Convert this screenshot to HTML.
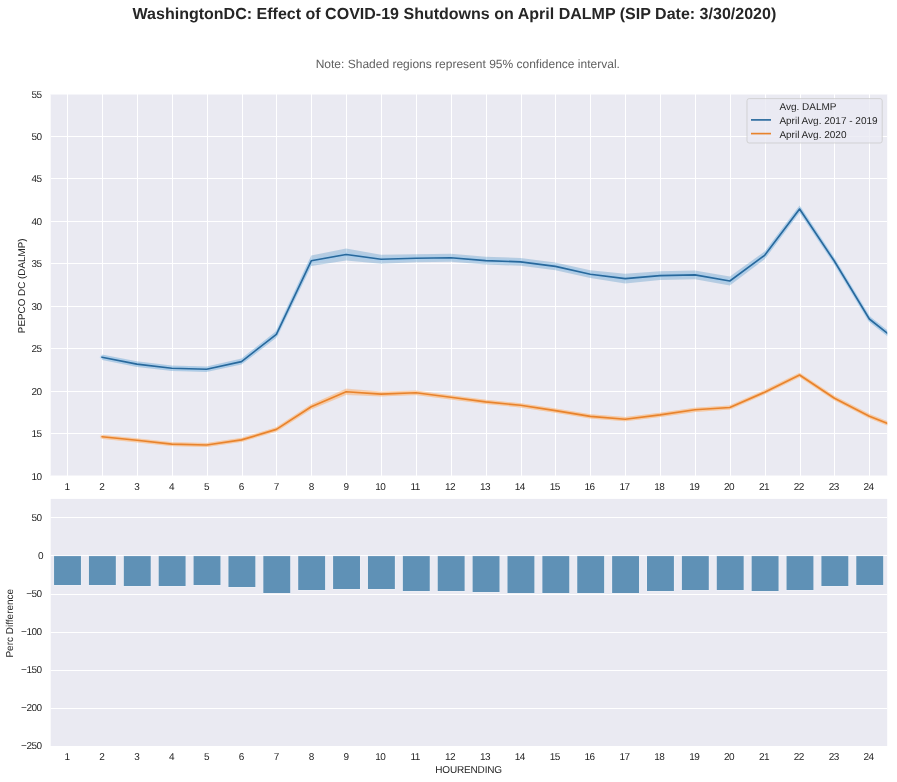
<!DOCTYPE html>
<html lang="en">
<head>
<meta charset="utf-8">
<title>WashingtonDC: Effect of COVID-19 Shutdowns on April DALMP</title>
<style>
html,body{margin:0;padding:0;background:#fff;}
body{width:897px;height:782px;overflow:hidden;}
svg{display:block;will-change:transform;}
text{font-family:"Liberation Sans",Arial,Helvetica,sans-serif;fill:#262626;font-size:10px;text-rendering:geometricPrecision;}
.title{font-size:16px;font-weight:bold;fill:#262626;letter-spacing:0.012px;}
.sub{font-size:12px;fill:#606060;}
.grid line{stroke:#ffffff;stroke-width:1;}
.tk text{letter-spacing:-0.5px;}
</style>
</head>
<body>
<svg width="897" height="782" viewBox="0 0 897 782">
<rect x="0" y="0" width="897" height="782" fill="#ffffff"/>
<text class="title" x="454.4" y="19" text-anchor="middle">WashingtonDC: Effect of COVID-19 Shutdowns on April DALMP (SIP Date: 3/30/2020)</text>
<text class="sub" x="467.8" y="68.3" text-anchor="middle">Note: Shaded regions represent 95% confidence interval.</text>
<clipPath id="c1"><rect x="50.7" y="94.0" width="836.50" height="382.00"/></clipPath>
<rect x="50.7" y="94.0" width="836.50" height="382.00" fill="#eaeaf2"/>
<g class="grid" clip-path="url(#c1)">
<line x1="67.5" y1="94.0" x2="67.5" y2="476.0"/>
<line x1="102.5" y1="94.0" x2="102.5" y2="476.0"/>
<line x1="137.5" y1="94.0" x2="137.5" y2="476.0"/>
<line x1="172.5" y1="94.0" x2="172.5" y2="476.0"/>
<line x1="207.5" y1="94.0" x2="207.5" y2="476.0"/>
<line x1="242.5" y1="94.0" x2="242.5" y2="476.0"/>
<line x1="276.5" y1="94.0" x2="276.5" y2="476.0"/>
<line x1="311.5" y1="94.0" x2="311.5" y2="476.0"/>
<line x1="346.5" y1="94.0" x2="346.5" y2="476.0"/>
<line x1="381.5" y1="94.0" x2="381.5" y2="476.0"/>
<line x1="416.5" y1="94.0" x2="416.5" y2="476.0"/>
<line x1="451.5" y1="94.0" x2="451.5" y2="476.0"/>
<line x1="486.5" y1="94.0" x2="486.5" y2="476.0"/>
<line x1="521.5" y1="94.0" x2="521.5" y2="476.0"/>
<line x1="555.5" y1="94.0" x2="555.5" y2="476.0"/>
<line x1="590.5" y1="94.0" x2="590.5" y2="476.0"/>
<line x1="625.5" y1="94.0" x2="625.5" y2="476.0"/>
<line x1="660.5" y1="94.0" x2="660.5" y2="476.0"/>
<line x1="695.5" y1="94.0" x2="695.5" y2="476.0"/>
<line x1="730.5" y1="94.0" x2="730.5" y2="476.0"/>
<line x1="765.5" y1="94.0" x2="765.5" y2="476.0"/>
<line x1="800.5" y1="94.0" x2="800.5" y2="476.0"/>
<line x1="834.5" y1="94.0" x2="834.5" y2="476.0"/>
<line x1="869.5" y1="94.0" x2="869.5" y2="476.0"/>
<line x1="50.7" y1="476.00" x2="887.2" y2="476.00"/>
<line x1="50.7" y1="433.50" x2="887.2" y2="433.50"/>
<line x1="50.7" y1="391.50" x2="887.2" y2="391.50"/>
<line x1="50.7" y1="348.50" x2="887.2" y2="348.50"/>
<line x1="50.7" y1="306.50" x2="887.2" y2="306.50"/>
<line x1="50.7" y1="263.50" x2="887.2" y2="263.50"/>
<line x1="50.7" y1="221.50" x2="887.2" y2="221.50"/>
<line x1="50.7" y1="178.50" x2="887.2" y2="178.50"/>
<line x1="50.7" y1="136.50" x2="887.2" y2="136.50"/>
<line x1="50.7" y1="94.00" x2="887.2" y2="94.00"/>
</g>
<g clip-path="url(#c1)">
<polygon points="101.98,354.40 136.86,361.30 171.74,365.50 206.62,366.40 241.50,358.60 276.38,330.90 311.26,255.60 346.14,248.60 381.02,254.70 415.90,254.30 450.78,253.70 485.66,256.70 520.54,258.00 555.42,262.50 590.30,270.30 625.18,273.80 660.06,271.20 694.94,270.50 729.82,276.60 764.70,251.40 799.58,205.60 834.46,258.30 869.34,316.00 904.22,343.50 904.22,349.50 869.34,322.00 834.46,264.30 799.58,212.40 764.70,259.20 729.82,285.40 694.94,279.30 660.06,280.00 625.18,283.40 590.30,278.10 555.42,270.30 520.54,265.80 485.66,264.50 450.78,261.70 415.90,262.30 381.02,263.70 346.14,260.40 311.26,266.00 276.38,337.70 241.50,364.60 206.62,372.00 171.74,371.10 136.86,366.90 101.98,360.00" fill="#1f77b4" fill-opacity="0.26"/>
<polygon points="101.98,434.90 136.86,438.40 171.74,442.20 206.62,443.10 241.50,438.00 276.38,427.30 311.26,404.20 346.14,388.40 381.02,391.60 415.90,390.50 450.78,395.20 485.66,399.80 520.54,403.20 555.42,408.50 590.30,414.30 625.18,417.10 660.06,412.80 694.94,407.70 729.82,405.40 764.70,390.10 799.58,372.90 834.46,396.10 869.34,414.10 904.22,427.90 904.22,432.10 869.34,418.30 834.46,400.30 799.58,377.10 764.70,394.30 729.82,409.60 694.94,411.90 660.06,417.00 625.18,421.30 590.30,418.50 555.42,412.70 520.54,407.40 485.66,404.00 450.78,399.40 415.90,395.10 381.02,396.60 346.14,395.00 311.26,409.40 276.38,431.50 241.50,441.80 206.62,446.90 171.74,446.00 136.86,442.20 101.98,438.70" fill="#ff7f0e" fill-opacity="0.26"/>
<polyline points="101.98,357.20 136.86,364.10 171.74,368.30 206.62,369.20 241.50,361.60 276.38,334.30 311.26,260.80 346.14,254.50 381.02,259.20 415.90,258.30 450.78,257.70 485.66,260.60 520.54,261.90 555.42,266.40 590.30,274.20 625.18,278.60 660.06,275.60 694.94,274.90 729.82,281.00 764.70,255.30 799.58,209.00 834.46,261.30 869.34,319.00 904.22,346.50" fill="none" stroke="#9fcdf2" stroke-opacity="0.4" stroke-width="4.4" stroke-linejoin="round" stroke-linecap="round"/>
<polyline points="101.98,436.80 136.86,440.30 171.74,444.10 206.62,445.00 241.50,439.90 276.38,429.40 311.26,406.80 346.14,391.70 381.02,394.10 415.90,392.80 450.78,397.30 485.66,401.90 520.54,405.30 555.42,410.60 590.30,416.40 625.18,419.20 660.06,414.90 694.94,409.80 729.82,407.50 764.70,392.20 799.58,375.00 834.46,398.20 869.34,416.20 904.22,430.00" fill="none" stroke="#ffc48c" stroke-opacity="0.45" stroke-width="4.2" stroke-linejoin="round" stroke-linecap="round"/>
<polyline points="101.98,357.20 136.86,364.10 171.74,368.30 206.62,369.20 241.50,361.60 276.38,334.30 311.26,260.80 346.14,254.50 381.02,259.20 415.90,258.30 450.78,257.70 485.66,260.60 520.54,261.90 555.42,266.40 590.30,274.20 625.18,278.60 660.06,275.60 694.94,274.90 729.82,281.00 764.70,255.30 799.58,209.00 834.46,261.30 869.34,319.00 904.22,346.50" fill="none" stroke="#28699d" stroke-width="1.65" stroke-linejoin="round" stroke-linecap="round"/>
<polyline points="101.98,436.80 136.86,440.30 171.74,444.10 206.62,445.00 241.50,439.90 276.38,429.40 311.26,406.80 346.14,391.70 381.02,394.10 415.90,392.80 450.78,397.30 485.66,401.90 520.54,405.30 555.42,410.60 590.30,416.40 625.18,419.20 660.06,414.90 694.94,409.80 729.82,407.50 764.70,392.20 799.58,375.00 834.46,398.20 869.34,416.20 904.22,430.00" fill="none" stroke="#e8832c" stroke-width="1.65" stroke-linejoin="round" stroke-linecap="round"/>
</g>
<g class="tk">
<text x="41.6" y="479.60" text-anchor="end">10</text>
<text x="41.6" y="437.16" text-anchor="end">15</text>
<text x="41.6" y="394.71" text-anchor="end">20</text>
<text x="41.6" y="352.27" text-anchor="end">25</text>
<text x="41.6" y="309.82" text-anchor="end">30</text>
<text x="41.6" y="267.38" text-anchor="end">35</text>
<text x="41.6" y="224.93" text-anchor="end">40</text>
<text x="41.6" y="182.49" text-anchor="end">45</text>
<text x="41.6" y="140.04" text-anchor="end">50</text>
<text x="41.6" y="97.60" text-anchor="end">55</text>
<text x="67.00" y="490" text-anchor="middle">1</text>
<text x="101.88" y="490" text-anchor="middle">2</text>
<text x="136.76" y="490" text-anchor="middle">3</text>
<text x="171.64" y="490" text-anchor="middle">4</text>
<text x="206.52" y="490" text-anchor="middle">5</text>
<text x="241.40" y="490" text-anchor="middle">6</text>
<text x="276.28" y="490" text-anchor="middle">7</text>
<text x="311.16" y="490" text-anchor="middle">8</text>
<text x="346.04" y="490" text-anchor="middle">9</text>
<text x="380.32" y="490" text-anchor="middle">10</text>
<text x="415.20" y="490" text-anchor="middle">11</text>
<text x="450.08" y="490" text-anchor="middle">12</text>
<text x="484.96" y="490" text-anchor="middle">13</text>
<text x="519.84" y="490" text-anchor="middle">14</text>
<text x="554.72" y="490" text-anchor="middle">15</text>
<text x="589.60" y="490" text-anchor="middle">16</text>
<text x="624.48" y="490" text-anchor="middle">17</text>
<text x="659.36" y="490" text-anchor="middle">18</text>
<text x="694.24" y="490" text-anchor="middle">19</text>
<text x="729.12" y="490" text-anchor="middle">20</text>
<text x="764.00" y="490" text-anchor="middle">21</text>
<text x="798.88" y="490" text-anchor="middle">22</text>
<text x="833.76" y="490" text-anchor="middle">23</text>
<text x="868.64" y="490" text-anchor="middle">24</text>
</g>
<text transform="translate(25.0,285.8) rotate(-90)" text-anchor="middle" style="font-size:9.87px">PEPCO DC (DALMP)</text>
<rect x="747" y="98.6" width="135.2" height="44.4" rx="2.2" ry="2.2" fill="#eaeaf2" fill-opacity="0.8" stroke="#cccccc" stroke-opacity="0.8" stroke-width="1"/>
<text x="779.4" y="109.8">Avg. DALMP</text>
<line x1="751" y1="119.9" x2="771" y2="119.9" stroke="#28699d" stroke-width="1.65"/>
<text x="779.4" y="124.0">April Avg. 2017 - 2019</text>
<line x1="751" y1="133.6" x2="771" y2="133.6" stroke="#e8832c" stroke-width="1.65"/>
<text x="779.4" y="137.8">April Avg. 2020</text>
<rect x="50.7" y="498.9" width="836.50" height="247.20" fill="#eaeaf2"/>
<g class="grid">
<line x1="50.7" y1="746.50" x2="887.2" y2="746.50"/>
<line x1="50.7" y1="708.50" x2="887.2" y2="708.50"/>
<line x1="50.7" y1="670.50" x2="887.2" y2="670.50"/>
<line x1="50.7" y1="632.50" x2="887.2" y2="632.50"/>
<line x1="50.7" y1="594.50" x2="887.2" y2="594.50"/>
<line x1="50.7" y1="555.50" x2="887.2" y2="555.50"/>
<line x1="50.7" y1="517.50" x2="887.2" y2="517.50"/>
</g>
<g fill="#eef1f8">
<rect x="53.55" y="555.60" width="27.9" height="29.90"/>
<rect x="88.43" y="555.60" width="27.9" height="29.90"/>
<rect x="123.31" y="555.60" width="27.9" height="30.90"/>
<rect x="158.19" y="555.60" width="27.9" height="30.90"/>
<rect x="193.07" y="555.60" width="27.9" height="29.90"/>
<rect x="227.95" y="555.60" width="27.9" height="31.90"/>
<rect x="262.83" y="555.60" width="27.9" height="37.90"/>
<rect x="297.71" y="555.60" width="27.9" height="34.90"/>
<rect x="332.59" y="555.60" width="27.9" height="33.90"/>
<rect x="367.47" y="555.60" width="27.9" height="33.90"/>
<rect x="402.35" y="555.60" width="27.9" height="35.90"/>
<rect x="437.23" y="555.60" width="27.9" height="35.90"/>
<rect x="472.11" y="555.60" width="27.9" height="36.90"/>
<rect x="506.99" y="555.60" width="27.9" height="37.90"/>
<rect x="541.87" y="555.60" width="27.9" height="37.90"/>
<rect x="576.75" y="555.60" width="27.9" height="37.90"/>
<rect x="611.63" y="555.60" width="27.9" height="37.90"/>
<rect x="646.51" y="555.60" width="27.9" height="35.90"/>
<rect x="681.39" y="555.60" width="27.9" height="34.90"/>
<rect x="716.27" y="555.60" width="27.9" height="34.90"/>
<rect x="751.15" y="555.60" width="27.9" height="35.90"/>
<rect x="786.03" y="555.60" width="27.9" height="34.90"/>
<rect x="820.91" y="555.60" width="27.9" height="30.90"/>
<rect x="855.79" y="555.60" width="27.9" height="29.90"/>
</g>
<g fill="#5f91b6">
<rect x="54.05" y="556.10" width="26.9" height="28.90"/>
<rect x="88.93" y="556.10" width="26.9" height="28.90"/>
<rect x="123.81" y="556.10" width="26.9" height="29.90"/>
<rect x="158.69" y="556.10" width="26.9" height="29.90"/>
<rect x="193.57" y="556.10" width="26.9" height="28.90"/>
<rect x="228.45" y="556.10" width="26.9" height="30.90"/>
<rect x="263.33" y="556.10" width="26.9" height="36.90"/>
<rect x="298.21" y="556.10" width="26.9" height="33.90"/>
<rect x="333.09" y="556.10" width="26.9" height="32.90"/>
<rect x="367.97" y="556.10" width="26.9" height="32.90"/>
<rect x="402.85" y="556.10" width="26.9" height="34.90"/>
<rect x="437.73" y="556.10" width="26.9" height="34.90"/>
<rect x="472.61" y="556.10" width="26.9" height="35.90"/>
<rect x="507.49" y="556.10" width="26.9" height="36.90"/>
<rect x="542.37" y="556.10" width="26.9" height="36.90"/>
<rect x="577.25" y="556.10" width="26.9" height="36.90"/>
<rect x="612.13" y="556.10" width="26.9" height="36.90"/>
<rect x="647.01" y="556.10" width="26.9" height="34.90"/>
<rect x="681.89" y="556.10" width="26.9" height="33.90"/>
<rect x="716.77" y="556.10" width="26.9" height="33.90"/>
<rect x="751.65" y="556.10" width="26.9" height="34.90"/>
<rect x="786.53" y="556.10" width="26.9" height="33.90"/>
<rect x="821.41" y="556.10" width="26.9" height="29.90"/>
<rect x="856.29" y="556.10" width="26.9" height="28.90"/>
</g>
<g class="tk">
<text x="41.6" y="749.20" text-anchor="end">−250</text>
<text x="41.6" y="711.14" text-anchor="end">−200</text>
<text x="41.6" y="673.08" text-anchor="end">−150</text>
<text x="41.6" y="635.02" text-anchor="end">−100</text>
<text x="41.6" y="596.96" text-anchor="end">−50</text>
<text x="43.0" y="558.90" text-anchor="end">0</text>
<text x="41.6" y="520.84" text-anchor="end">50</text>
<text x="67.00" y="760" text-anchor="middle">1</text>
<text x="101.88" y="760" text-anchor="middle">2</text>
<text x="136.76" y="760" text-anchor="middle">3</text>
<text x="171.64" y="760" text-anchor="middle">4</text>
<text x="206.52" y="760" text-anchor="middle">5</text>
<text x="241.40" y="760" text-anchor="middle">6</text>
<text x="276.28" y="760" text-anchor="middle">7</text>
<text x="311.16" y="760" text-anchor="middle">8</text>
<text x="346.04" y="760" text-anchor="middle">9</text>
<text x="380.32" y="760" text-anchor="middle">10</text>
<text x="415.20" y="760" text-anchor="middle">11</text>
<text x="450.08" y="760" text-anchor="middle">12</text>
<text x="484.96" y="760" text-anchor="middle">13</text>
<text x="519.84" y="760" text-anchor="middle">14</text>
<text x="554.72" y="760" text-anchor="middle">15</text>
<text x="589.60" y="760" text-anchor="middle">16</text>
<text x="624.48" y="760" text-anchor="middle">17</text>
<text x="659.36" y="760" text-anchor="middle">18</text>
<text x="694.24" y="760" text-anchor="middle">19</text>
<text x="729.12" y="760" text-anchor="middle">20</text>
<text x="764.00" y="760" text-anchor="middle">21</text>
<text x="798.88" y="760" text-anchor="middle">22</text>
<text x="833.76" y="760" text-anchor="middle">23</text>
<text x="868.64" y="760" text-anchor="middle">24</text>
</g>
<text transform="translate(12.6,623.2) rotate(-90)" text-anchor="middle">Perc Difference</text>
<text x="468.6" y="773" text-anchor="middle" style="letter-spacing:-0.17px">HOURENDING</text>
</svg>
</body>
</html>
